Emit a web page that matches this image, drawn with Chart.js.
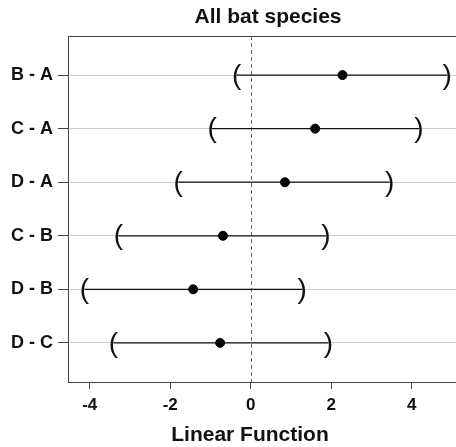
<!DOCTYPE html>
<html>
<head>
<meta charset="utf-8">
<script src="https://cdn.jsdelivr.net/npm/chart.js@4"></script>
<style>
  html, body { margin: 0; padding: 0; background: #fff; }
  #wrap { width: 456px; height: 447px; }
</style>
</head>
<body>
<div id="wrap"><canvas id="chartCI"></canvas></div>
<script>
// comparisons, top to bottom
const comparisons = ["B - A", "C - A", "D - A", "C - B", "D - B", "D - C"];
const estimate = [2.28, 1.60, 0.85, -0.69, -1.43, -0.76];
const lower = [-0.35, -0.96, -1.80, -3.29, -4.13, -3.41];
const upper = [4.88, 4.18, 3.45, 1.87, 1.28, 1.93];
const xTicks = [-4, -2, 0, 2, 4];
const mainTitle = "All bat species";
const xLabel = "Linear Function";

const FONT = "'Liberation Sans', Arial, sans-serif";

// one line per comparison, lower -> upper
const intervalSets = comparisons.map((c, i) => ({
  label: c,
  data: [{ x: lower[i], y: i }, { x: upper[i], y: i }],
  showLine: true,
  borderColor: "#111",
  borderWidth: 1.2,
  pointRadius: 0,
  isInterval: true
}));

const pointSet = {
  label: "estimate",
  data: estimate.map((v, i) => ({ x: v, y: i })),
  pointRadius: 4.5,
  pointBackgroundColor: "#000",
  pointBorderColor: "#000",
  showLine: false
};

// dashed zero line + box top edge
const zeroLine = {
  id: "zeroLine",
  beforeDatasetsDraw(chart) {
    const { ctx, chartArea, scales } = chart;
    const x0 = Math.round(scales.x.getPixelForValue(0)) + 0.5;
    ctx.save();
    ctx.strokeStyle = "#666";
    ctx.lineWidth = 1;
    ctx.setLineDash([4, 3]);
    ctx.beginPath();
    ctx.moveTo(x0, chartArea.top);
    ctx.lineTo(x0, chartArea.bottom);
    ctx.stroke();
    ctx.setLineDash([]);
    ctx.strokeStyle = "#444";
    ctx.beginPath();
    ctx.moveTo(chartArea.left, chartArea.top + 0.5);
    ctx.lineTo(chartArea.right, chartArea.top + 0.5);
    ctx.stroke();
    ctx.restore();
  }
};

// "(" and ")" at the interval ends, plus titles
const parens = {
  id: "parens",
  afterDatasetsDraw(chart) {
    const ctx = chart.ctx;
    ctx.save();
    ctx.fillStyle = "#111";
    ctx.font = "28px " + FONT;
    ctx.textAlign = "center";
    ctx.textBaseline = "middle";
    chart.data.datasets.forEach((ds, i) => {
      if (!ds.isInterval) return;
      const pts = chart.getDatasetMeta(i).data;
      ctx.fillText("(", pts[0].x, pts[0].y + 1);
      ctx.fillText(")", pts[1].x, pts[1].y + 1);
    });
    ctx.font = "bold 21px " + FONT;
    ctx.textBaseline = "alphabetic";
    ctx.fillText(mainTitle, 268, 23);
    ctx.fillText(xLabel, 250, 441);
    ctx.restore();
  }
};

new Chart(document.getElementById("chartCI"), {
  type: "scatter",
  data: { datasets: [...intervalSets, pointSet] },
  plugins: [zeroLine, parens],
  options: {
    responsive: true,
    maintainAspectRatio: false,
    animation: false,
    layout: { autoPadding: false, padding: { left: 0, right: 0, top: 36, bottom: 0 } },
    plugins: {
      legend: { display: false },
      tooltip: { enabled: false },
      title: { display: false }
    },
    scales: {
      x: {
        type: "linear",
        min: -4.54,
        max: 5.1,
        afterBuildTicks: (s) => { s.ticks = xTicks.map(v => ({ value: v })); },
        afterFit: (s) => { s.height = 65; s.paddingLeft = 0; s.paddingRight = 0; },
        grid: { drawOnChartArea: false, tickLength: 7, tickColor: "#444" },
        border: { display: true, color: "#444", width: 1 },
        ticks: {
          color: "#111",
          padding: 6,
          font: { family: FONT, size: 17, weight: "bold" }
        }
      },
      y: {
        type: "linear",
        reverse: true,
        min: -0.73,
        max: 5.73,
        afterBuildTicks: (s) => { s.ticks = comparisons.map((c, i) => ({ value: i })); },
        afterFit: (s) => { s.width = 68; s.paddingTop = 0; s.paddingBottom = 0; },
        grid: { color: "#ccc", lineWidth: 1, tickLength: 10, tickColor: "#444" },
        border: { display: true, color: "#444", width: 1 },
        ticks: {
          color: "#111",
          padding: 5,
          font: { family: FONT, size: 18, weight: "bold" },
          callback: (v) => comparisons[v]
        }
      }
    }
  }
});
</script>
</body>
</html>
